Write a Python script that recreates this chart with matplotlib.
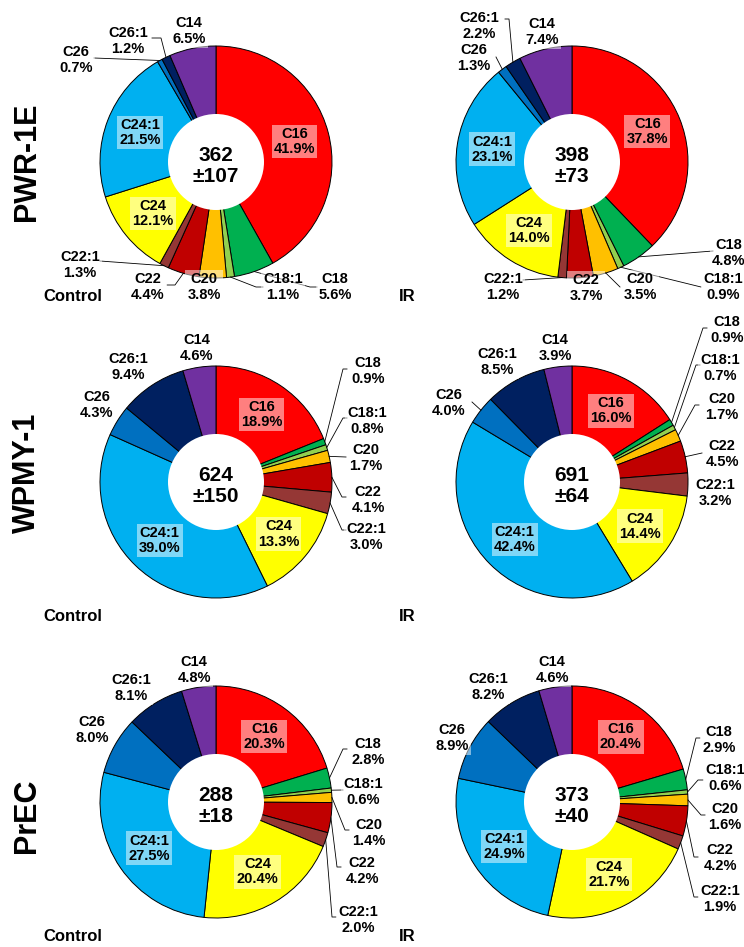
import matplotlib.pyplot as plt
from matplotlib.patches import Circle
import numpy as np

plt.rcParams['font.family'] = ['Liberation Sans', 'DejaVu Sans']

# fatty acids, clockwise from 12 o'clock
acids = ['C16', 'C18', 'C18:1', 'C20', 'C22', 'C22:1',
         'C24', 'C24:1', 'C26', 'C26:1', 'C14']
colors = ['#FF0000', '#00B050', '#92D050', '#FFC000', '#C00000', '#953735',
          '#FFFF00', '#00B0F0', '#0070C0', '#002060', '#7030A0']

# percent of total, same order as acids
pwr_control = [41.9, 5.6, 1.1, 3.8, 4.4, 1.3, 12.1, 21.5, 0.7, 1.2, 6.5]
pwr_ir = [37.8, 4.8, 0.9, 3.5, 3.7, 1.2, 14.0, 23.1, 1.3, 2.2, 7.4]
wpmy_control = [18.9, 0.9, 0.8, 1.7, 4.1, 3.0, 13.3, 39.0, 4.3, 9.4, 4.6]
wpmy_ir = [16.0, 0.9, 0.7, 1.7, 4.5, 3.2, 14.4, 42.4, 4.0, 8.5, 3.9]
prec_control = [20.3, 2.8, 0.6, 1.4, 4.2, 2.0, 20.4, 27.5, 8.0, 8.1, 4.8]
prec_ir = [20.4, 2.9, 0.6, 1.6, 4.2, 1.9, 21.7, 24.9, 8.9, 8.2, 4.6]

# totals shown in the hole (mean and sd)
totals = [362, 398, 624, 691, 288, 373]
sds = [107, 73, 150, 64, 18, 40]

cell_lines = ['PWR-1E', 'WPMY-1', 'PrEC']
conditions = ['Control', 'IR']

inside = ['C16', 'C24', 'C24:1']

# ---- layout (pixel coords, top-left origin) ----
W, H = 744, 947
R = 116
HOLE = 48
col_x = [216, 572]
row_y = [162, 482, 802]

# outside label position and leader points (leader ends on the wedge edge)
label_layout = [
    {  # PWR-1E control
        'C14': (189, 31, None),
        'C26:1': (128, 41, [(152, 38), (161, 38)]),
        'C26': (76, 60, [(94, 58)]),
        'C22:1': (80, 265, [(100, 261)]),
        'C22': (148, 287, [(167, 285), (175, 285)]),
        'C20': (204, 287, None),
        'C18:1': (283, 287, [(263, 287), (256, 287)]),
        'C18': (335, 287, [(317, 287), (310, 287)]),
    },
    {  # PWR-1E IR
        'C14': (542, 32, None),
        'C26:1': (479, 26, [(505, 19), (509, 19)]),
        'C26': (474, 58, [(496, 57)]),
        'C18': (729, 253, [(713, 251)]),
        'C18:1': (723, 287, [(701, 287)]),
        'C20': (640, 287, [(620, 287)]),
        'C22': (586, 288, None),
        'C22:1': (503, 287, [(523, 280)]),
    },
    {  # WPMY-1 control
        'C14': (197, 348, None),
        'C26:1': (128, 367, None),
        'C26': (97, 405, None),
        'C18': (368, 371, [(347, 369), (343, 369)]),
        'C18:1': (367, 421, [(347, 418), (343, 418)]),
        'C20': (366, 458, [(346, 457)]),
        'C22': (368, 500, [(346, 497), (342, 497)]),
        'C22:1': (366, 537, [(346, 530), (342, 530)]),
    },
    {  # WPMY-1 IR
        'C14': (555, 348, None),
        'C26:1': (497, 362, None),
        'C26': (449, 403, [(472, 402)]),
        'C18': (727, 330, [(707, 328), (703, 328)]),
        'C18:1': (720, 368, [(700, 365), (696, 365)]),
        'C20': (722, 407, [(699, 405), (695, 405)]),
        'C22': (722, 454, [(702, 453)]),
        'C22:1': (715, 493, None),
    },
    {  # PrEC control
        'C14': (194, 670, None),
        'C26:1': (131, 688, None),
        'C26': (92, 730, None),
        'C18': (368, 752, [(347, 749), (343, 749)]),
        'C18:1': (363, 792, [(343, 790)]),
        'C20': (369, 833, [(349, 830), (345, 830)]),
        'C22': (362, 871, [(341, 867), (337, 867)]),
        'C22:1': (358, 920, [(336, 917), (332, 917)]),
    },
    {  # PrEC IR
        'C14': (552, 670, None),
        'C26:1': (488, 687, None),
        'C26': (452, 738, None),
        'C18': (719, 740, [(700, 738), (696, 738)]),
        'C18:1': (725, 778, [(703, 780), (698, 780)]),
        'C20': (725, 817, [(705, 815), (701, 815)]),
        'C22': (720, 858, [(698, 857), (694, 857)]),
        'C22:1': (720, 899, [(698, 897), (694, 897)]),
    },
]


def P(x, y):
    # pixel (top-left origin) -> data coords
    return x, H - y


series = [pwr_control, pwr_ir, wpmy_control, wpmy_ir, prec_control, prec_ir]

fig = plt.figure(figsize=(W / 100, H / 100), dpi=100)
ax = fig.add_axes([0, 0, 1, 1])

box = dict(boxstyle='square,pad=0.15', fc='white', ec='none', alpha=0.5)

for i, vals in enumerate(series):
    row, col = divmod(i, 2)
    cx, cy = P(col_x[col], row_y[row])
    wedges, _ = ax.pie(vals, colors=colors, startangle=90, counterclock=False,
                       radius=R, center=(cx, cy),
                       wedgeprops=dict(edgecolor='black', linewidth=0.7))
    ax.add_patch(Circle((cx, cy), HOLE, fc='white', ec='none', zorder=3))
    ax.text(cx, cy - 4, f'{totals[i]}\n\u00b1{sds[i]}', ha='center', va='center',
            fontsize=15, fontweight='bold', linespacing=1.1, zorder=4)

    for name, w, v in zip(acids, wedges, vals):
        mid = np.deg2rad((w.theta1 + w.theta2) / 2)
        txt = f'{name}\n{v:.1f}%'
        if name in inside:
            lx = cx + 0.7 * R * np.cos(mid)
            ly = cy + 0.7 * R * np.sin(mid)
            ax.text(lx, ly, txt, ha='center', va='center', fontsize=10.5,
                    fontweight='bold', linespacing=1.1, bbox=box, zorder=5)
            continue
        tx, ty, leader = label_layout[i][name]
        ex, ey = cx + R * np.cos(mid), cy + R * np.sin(mid)
        if leader:
            pts = [P(*p) for p in leader] + [(ex, ey)]
            ax.plot([p[0] for p in pts], [p[1] for p in pts], color='black',
                    lw=0.6, zorder=2)
        ax.text(*P(tx, ty), txt, ha='center', va='center', fontsize=10.5,
                fontweight='bold', linespacing=1.1, bbox=box, zorder=5)

    ax.text(*P(73 if col == 0 else 407, row_y[row] + 134), conditions[col],
            ha='center', va='center', fontsize=12, fontweight='bold')

for row, name in enumerate(cell_lines):
    ax.text(*P(27, [162, 473, 816][row]), name, rotation=90, ha='center',
            va='center', fontsize=22, fontweight='bold')

ax.set_xlim(0, W)
ax.set_ylim(0, H)
ax.set_aspect('auto')
ax.axis('off')

fig.savefig('out.png', dpi=100)
